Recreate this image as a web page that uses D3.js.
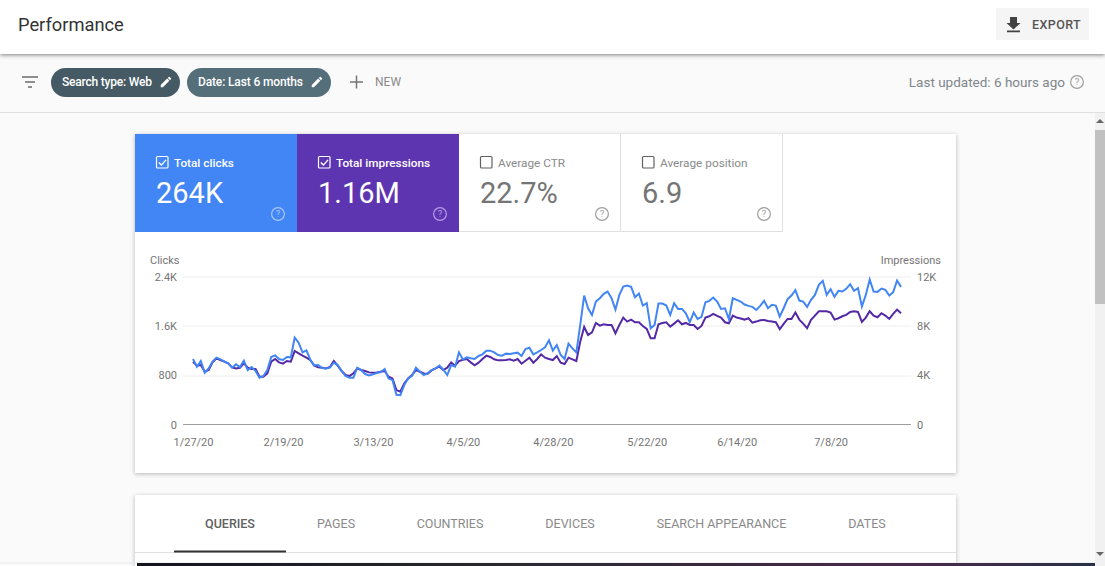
<!DOCTYPE html>
<html>
<head>
<meta charset="utf-8">
<title>Performance</title>
<script src="https://cdn.jsdelivr.net/npm/d3@7/dist/d3.min.js"></script>
<style>
  html, body { margin: 0; padding: 0; overflow: hidden; background: #fafafa; }
  svg { display: block; font-family: Roboto, sans-serif; }
  .grid line { stroke: #eeeeee; }
  .axis text { font-size: 11px; fill: #757575; font-family: Roboto, sans-serif; }
  .axis path, .axis line { display: none; }
</style>
</head>
<body>
<div id="page"></div>
<script>
const firstDay = new Date(2020, 0, 27);

const clicks = [
  1062,937,1029,840,910,1019,1084,1056,1024,991,921,975,932,1035,883,932,867,759,786,883,
  1094,1122,1062,1046,1094,1089,1409,1327,1170,1203,1046,959,964,916,910,921,1002,964,867,786,
  759,759,921,883,818,796,813,834,851,899,748,721,482,477,639,748,791,921,856,802,
  834,883,910,954,889,802,964,937,1170,1056,1089,1073,1062,1111,1138,1197,1197,1170,1127,1116,
  1149,1143,1154,1165,1111,1224,1246,1138,1170,1208,1252,1365,1197,1289,1127,1062,1311,1235,1170,1615,
  2091,1885,1777,1994,2048,2118,2156,2048,1864,2102,2238,2254,2232,2064,2124,1929,1967,1560,1615,1961,
  1961,1929,1777,1967,1875,1875,1804,1658,1815,1712,1745,1983,2005,2059,1994,1875,1885,1707,2048,2021,
  1994,1945,1923,1907,1858,1923,2005,1885,1940,1929,1750,1885,2032,2091,2178,2010,1994,1907,2021,2102,
  2265,2330,2102,2194,2070,2167,2156,2200,2276,2167,2211,1913,2102,2351,2156,2151,2205,2183,2091,2146,
  2335,2232
];

const impressions = [
  5093,4768,4822,4280,4416,5039,5364,5228,5093,4957,4632,4551,4605,4957,4605,4497,4497,3874,3874,4145,
  5093,5310,5039,4930,5147,5093,5960,5770,5581,5418,5228,4768,4632,4605,4551,4659,5147,4768,4334,4009,
  3928,4145,4551,4416,4334,4226,4199,4226,4280,4334,3874,3738,2790,2655,3332,3738,4009,4416,4280,4145,
  4118,4389,4551,4687,4416,4605,5039,4768,5147,5255,5310,5039,4795,5012,5310,5581,5472,5283,5201,5201,
  5228,5283,5174,5310,4930,5174,5418,5012,5310,5689,5418,5310,5228,5553,5012,4903,5418,5283,5147,6718,
  7910,7260,7477,8235,8019,8127,8073,8073,7396,8073,8669,8344,8506,8290,8290,7992,7748,6989,6989,8127,
  8235,8290,7937,8181,8452,8127,8235,8073,8073,7748,7992,8669,8777,8967,8804,8669,8290,8208,8831,8669,
  8588,8506,8615,8262,8344,8452,8479,8398,8344,8290,7721,8154,8560,8560,9075,8506,8181,7802,8479,8831,
  9184,9184,9184,9075,8506,8615,8777,8886,9129,9184,9129,8317,8669,9184,8831,8696,9021,8831,8560,8967,
  9319,9021
];

const clickTicks = [0, 800, 1600, 2400];
const impressionTicks = [0, 4000, 8000, 12000];
const dateTicks = ["1/27/20", "2/19/20", "3/13/20", "4/5/20", "4/28/20", "5/22/20", "6/14/20", "7/8/20"];

const tileLabels = ["Total clicks", "Total impressions", "Average CTR", "Average position"];
const tileValues = ["264K", "1.16M", "22.7%", "6.9"];
const tabNames = ["QUERIES", "PAGES", "COUNTRIES", "DEVICES", "SEARCH APPEARANCE", "DATES"];

const W = 1105, H = 566;
const svg = d3.select("#page").append("svg").attr("width", W).attr("height", H);

const defs = svg.append("defs");
function shadow(id, dy, blur, op) {
  defs.append("filter").attr("id", id)
    .attr("x", "-5%").attr("y", "-20%").attr("width", "110%").attr("height", "140%")
    .append("feDropShadow")
    .attr("dx", 0).attr("dy", dy).attr("stdDeviation", blur)
    .attr("flood-color", "#000").attr("flood-opacity", op);
}
shadow("cardShadow", 1, 2, 0.28);
shadow("headShadow", 1, 2, 0.5);
const strip = defs.append("linearGradient").attr("id", "strip");
[["0%", "#14141c"], ["40%", "#2a2a30"], ["62%", "#3a2a3e"], ["80%", "#4a2a4c"], ["100%", "#2a3048"]].forEach(function(s) {
  strip.append("stop").attr("offset", s[0]).attr("stop-color", s[1]);
});

function label(parent, x, y, str, size, color, weight, anchor) {
  return parent.append("text")
    .attr("x", x).attr("y", y)
    .attr("font-size", size)
    .attr("fill", color)
    .attr("font-weight", weight || 400)
    .attr("text-anchor", anchor || "start")
    .text(str);
}

function helpIcon(cx, cy, color) {
  const g = svg.append("g").attr("transform", "translate(" + cx + "," + cy + ")");
  g.append("circle").attr("r", 6.4).attr("fill", "none").attr("stroke", color).attr("stroke-width", 1.2);
  label(g, 0, 3.4, "?", 9.5, color, 400, "middle");
}

function checkBox(x, y, color, checked) {
  svg.append("rect").attr("x", x + 0.5).attr("y", y + 0.5).attr("width", 11.5).attr("height", 11.5)
    .attr("rx", 1).attr("fill", "none").attr("stroke", color).attr("stroke-width", 1.2);
  if (checked) {
    svg.append("path")
      .attr("d", "M" + (x + 2.8) + "," + (y + 6.5) + "l2.6,2.6l4.6,-5.2")
      .attr("fill", "none").attr("stroke", color).attr("stroke-width", 1.4);
  }
}

function pencil(x, y) {
  svg.append("path")
    .attr("transform", "translate(" + x + "," + y + ") scale(0.58)")
    .attr("d", "M3 17.25V21h3.75L17.81 9.94l-3.75-3.75L3 17.25zM20.71 7.04a1 1 0 0 0 0-1.41l-2.34-2.34a1 1 0 0 0-1.41 0l-1.83 1.83 3.75 3.75 1.83-1.83z")
    .attr("fill", "#fff");
}

// page chrome
svg.append("rect").attr("width", W).attr("height", H).attr("fill", "#fafafa");

// filter bar
svg.append("line").attr("x1", 0).attr("x2", W).attr("y1", 112.5).attr("y2", 112.5).attr("stroke", "#e0e0e0");
[[22, 38, 77], [25, 35, 82], [28, 32, 87]].forEach(function(b) {
  svg.append("line").attr("x1", b[0]).attr("x2", b[1]).attr("y1", b[2]).attr("y2", b[2])
    .attr("stroke", "#757575").attr("stroke-width", 1.6);
});
svg.append("rect").attr("x", 51).attr("y", 68).attr("width", 129).attr("height", 29).attr("rx", 14.5).attr("fill", "#455a64");
svg.append("rect").attr("x", 187).attr("y", 68).attr("width", 144).attr("height", 29).attr("rx", 14.5).attr("fill", "#546e7a");
label(svg, 62, 86, "Search type: Web", 12, "#fff", 500).attr("textLength", 90);
label(svg, 198, 86, "Date: Last 6 months", 12, "#fff", 500).attr("textLength", 105);
pencil(159, 75);
pencil(310, 75);
svg.append("path").attr("d", "M356.5,75.5v13M350,82h13").attr("stroke", "#757575").attr("stroke-width", 1.5).attr("fill", "none");
label(svg, 375, 86, "NEW", 12, "#8a8a8a", 400);
label(svg, 1065, 87, "Last updated: 6 hours ago", 13.5, "#80868b", 400, "end");
helpIcon(1077, 82, "#9e9e9e");

// header
svg.append("rect").attr("width", W).attr("height", 54).attr("fill", "#fff").attr("filter", "url(#headShadow)");
label(svg, 18, 31, "Performance", 18.3, "#333", 400);
svg.append("rect").attr("x", 996).attr("y", 8).attr("width", 93).attr("height", 32).attr("fill", "#f5f5f5");
svg.append("path").attr("d", "M1010,17h7v6h3.5l-7,6.5l-7,-6.5h3.5zM1007,30.5h13v1.8h-13z").attr("fill", "#424242");
label(svg, 1032, 29, "EXPORT", 12.5, "#555", 500).attr("letter-spacing", 0.4);

// scrollbar
svg.append("rect").attr("x", 1095).attr("y", 113).attr("width", 10).attr("height", 453).attr("fill", "#f1f1f1");
svg.append("rect").attr("x", 1095).attr("y", 130).attr("width", 10).attr("height", 174).attr("fill", "#c1c1c1");
svg.append("path").attr("d", "M1100,119l4,4h-8zM1100,556l4,-4h-8z").attr("fill", "#666");

// scorecard
svg.append("rect").attr("x", 135).attr("y", 134).attr("width", 821).attr("height", 339).attr("fill", "#fff").attr("filter", "url(#cardShadow)");

const tileX = [135, 297, 459, 621];
const tileW = [162, 162, 162, 162];
const tileFill = ["#4285f4", "#5e35b1", "#fff", "#fff"];
tileLabels.forEach(function(name, i) {
  const on = i < 2;
  const fg = on ? "#fff" : "#757575";
  svg.append("rect").attr("x", tileX[i]).attr("y", 134).attr("width", tileW[i]).attr("height", 98).attr("fill", tileFill[i]);
  if (!on) {
    svg.append("path")
      .attr("d", "M" + tileX[i] + ",231.5H" + (tileX[i] + tileW[i] - 0.5) + "V134")
      .attr("fill", "none").attr("stroke", "#e0e0e0");
  }
  checkBox(tileX[i] + 21, 156, on ? "#fff" : "#616161", on);
  label(svg, tileX[i] + 39, 167, name, 11.8, on ? "#fff" : "#8a8a8a", on ? 500 : 400);
  label(svg, tileX[i] + 21, 203, tileValues[i], 29, fg, 400);
  helpIcon(tileX[i] + 143, 214, on ? (i == 0 ? "#a9c8fa" : "#b79be6") : "#9e9e9e");
});

// chart
const margin = {top: 276.5, right: 194, bottom: 141.5, left: 183};
const plotW = W - margin.left - margin.right;
const plotH = H - margin.top - margin.bottom;
const g = svg.append("g").attr("transform", "translate(" + margin.left + "," + margin.top + ")");

const parseTick = d3.timeParse("%-m/%-d/%y");
const x = d3.scaleTime()
  .domain([firstDay, d3.timeDay.offset(firstDay, clicks.length - 1)])
  .range([10, 718]);
const yClicks = d3.scaleLinear().domain([0, 2400]).range([plotH, 0]);
const yImpr = d3.scaleLinear().domain([0, 12000]).range([plotH, 0]);

g.append("g").attr("class", "grid")
  .selectAll("line").data(clickTicks.slice(1)).join("line")
  .attr("x1", 0).attr("x2", plotW)
  .attr("y1", function(d) {return Math.round(yClicks(d)) + 0.5;})
  .attr("y2", function(d) {return Math.round(yClicks(d)) + 0.5;});
g.append("line").attr("x1", 0).attr("x2", plotW)
  .attr("y1", plotH).attr("y2", plotH)
  .attr("stroke", "#9e9e9e").attr("stroke-width", 1);

const fmtClicks = function(d) {return d >= 1000 ? (d / 1000) + "K" : d;};
const fmtImpr = function(d) {return d >= 1000 ? (d / 1000) + "K" : d;};

g.append("g").attr("class", "axis axis-y")
  .call(d3.axisLeft(yClicks).tickValues(clickTicks).tickFormat(fmtClicks).tickSize(0).tickPadding(6));
g.append("g").attr("class", "axis axis-y2")
  .attr("transform", "translate(" + plotW + ",0)")
  .call(d3.axisRight(yImpr).tickValues(impressionTicks).tickFormat(fmtImpr).tickSize(0).tickPadding(6));
g.append("g").attr("class", "axis axis-x")
  .attr("transform", "translate(0," + plotH + ")")
  .call(d3.axisBottom(x)
    .tickValues(dateTicks.map(parseTick))
    .tickFormat(d3.timeFormat("%-m/%-d/%y"))
    .tickSize(0).tickPadding(14));

label(svg, 150, 264, "Clicks", 11, "#757575");
label(svg, 941, 264, "Impressions", 11, "#757575", 400, "end");

const day = function(i) {return d3.timeDay.offset(firstDay, i);};
const lineImpr = d3.line().x(function(d, i) {return x(day(i));}).y(function(d) {return yImpr(d);});
const lineClicks = d3.line().x(function(d, i) {return x(day(i));}).y(function(d) {return yClicks(d);});

g.append("path").datum(impressions).attr("class", "line")
  .style("fill", "none").style("stroke", "#5429a6").style("stroke-width", 2)
  .attr("d", lineImpr);
g.append("path").datum(clicks).attr("class", "line")
  .style("fill", "none").style("stroke", "#4285f4").style("stroke-width", 2)
  .attr("d", lineClicks);

// table card
svg.append("rect").attr("x", 135).attr("y", 495).attr("width", 821).attr("height", 80).attr("fill", "#fff").attr("filter", "url(#cardShadow)");
const tabX = [230, 336, 450, 570, 721.5, 867];
tabNames.forEach(function(name, i) {
  label(svg, tabX[i], 528, name, 12.5, i == 0 ? "#616161" : "#8a8a8a", i == 0 ? 500 : 400, "middle");
});
svg.append("line").attr("x1", 135).attr("x2", 956).attr("y1", 552.5).attr("y2", 552.5).attr("stroke", "#e0e0e0");
svg.append("rect").attr("x", 174).attr("y", 550.5).attr("width", 112).attr("height", 2).attr("fill", "#333");

// whatever sits below the fold
svg.append("rect").attr("x", 0).attr("y", 562.5).attr("width", 1095).attr("height", 1).attr("fill", "#e8e8e8");
svg.append("rect").attr("x", 137).attr("y", 563).attr("width", 958).attr("height", 3).attr("fill", "url(#strip)");
</script>
</body>
</html>
